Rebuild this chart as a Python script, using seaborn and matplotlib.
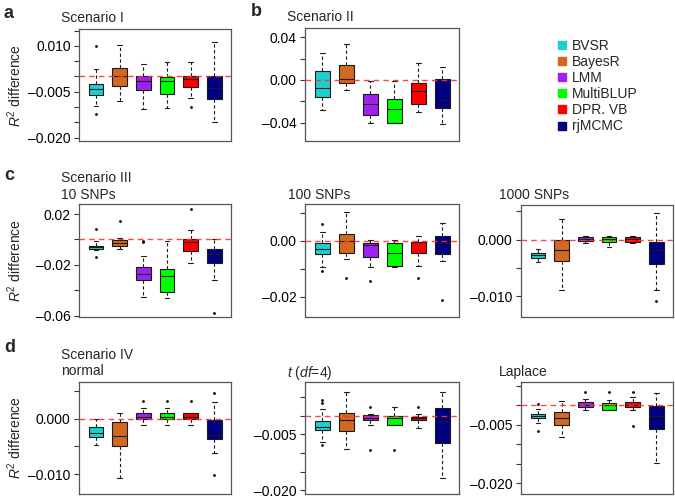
import numpy as np
import pandas as pd
import matplotlib
matplotlib.use("Agg")
import matplotlib.pyplot as plt
import seaborn as sns
from matplotlib.lines import Line2D

# ---------------- data ----------------
methods = ["BVSR", "BayesR", "LMM", "MultiBLUP", "DPR. VB", "rjMCMC"]
colors = ["#1FCFCF", "#D2691E", "#A020F0", "#00FF00", "#FF0000", "#000080"]

# box stats per method: [lower whisker, Q1, median, Q3, upper whisker]
a_stats = [[-0.0095, -0.0062, -0.0040, -0.0025, 0.0023],
           [-0.0080, -0.0032, 0.0001, 0.0028, 0.0104],
           [-0.0108, -0.0043, -0.0016, 0.0000, 0.0041],
           [-0.0104, -0.0057, -0.0015, -0.0003, 0.0047],
           [-0.0070, -0.0035, -0.0010, 0.0001, 0.0047],
           [-0.0150, -0.0073, -0.0038, 0.0001, 0.0112]]
a_out = [[0.0101, -0.0124], [], [], [], [-0.0101], []]

b_stats = [[-0.0279, -0.0163, -0.0078, 0.0082, 0.0257],
           [-0.0094, -0.0025, 0.0013, 0.0138, 0.0336],
           [-0.0408, -0.0333, -0.0229, -0.0135, -0.0006],
           [-0.0405, -0.0405, -0.0276, -0.0176, -0.0006],
           [-0.0301, -0.0223, -0.0107, -0.0028, 0.0160],
           [-0.0411, -0.0267, -0.0185, 0.0013, 0.0125]]
b_out = [[], [], [], [], [], []]

c1_stats = [[-0.0087, -0.0074, -0.0060, -0.0050, -0.0016],
            [-0.0076, -0.0055, -0.0029, -0.0008, 0.0013],
            [-0.0455, -0.0318, -0.0271, -0.0216, -0.0134],
            [-0.0460, -0.0418, -0.0289, -0.0234, -0.0016],
            [-0.0187, -0.0089, -0.0018, 0.0003, 0.0076],
            [-0.0316, -0.0187, -0.0113, -0.0074, 0.0000]]
c1_out = [[0.0084, -0.0139], [0.0147], [-0.0010, -0.0020], [], [0.0239], [-0.0581]]

c2_stats = [[-0.0093, -0.0048, -0.0029, -0.0007, 0.0030],
            [-0.0065, -0.0044, -0.0001, 0.0025, 0.0101],
            [-0.0095, -0.0059, -0.0017, -0.0008, 0.0002],
            [-0.0096, -0.0090, -0.0044, -0.0007, 0.0002],
            [-0.0092, -0.0044, -0.0005, -0.0004, 0.0016],
            [-0.0074, -0.0047, -0.0010, 0.0018, 0.0062]]
c2_out = [[0.0058, -0.0109], [-0.0135], [-0.0145], [], [-0.0135], [-0.0213]]

c3_stats = [[-0.0039, -0.0032, -0.0027, -0.0023, -0.0017],
            [-0.0089, -0.0038, -0.0018, 0.0000, 0.0036],
            [-0.0007, -0.0003, 0.0001, 0.0004, 0.0007],
            [-0.0014, -0.0004, 0.0001, 0.0004, 0.0007],
            [-0.0007, -0.0004, 0.0001, 0.0004, 0.0007],
            [-0.0089, -0.0044, -0.0019, -0.0005, 0.0046]]
c3_out = [[], [], [], [], [], [-0.0108]]

d1_stats = [[-0.0048, -0.0033, -0.0026, -0.0015, 0.0000],
            [-0.0107, -0.0050, -0.0031, -0.0006, 0.0010],
            [-0.0011, 0.0000, 0.0002, 0.0010, 0.0019],
            [-0.0011, 0.0000, 0.0002, 0.0010, 0.0019],
            [-0.0011, 0.0000, 0.0002, 0.0010, 0.0010],
            [-0.0062, -0.0036, -0.0030, -0.0003, 0.0030]]
d1_out = [[], [], [0.0031], [0.0031], [0.0031], [0.0047, -0.0102]]

d2_stats = [[-0.0071, -0.0039, -0.0031, -0.0013, 0.0018],
            [-0.0088, -0.0041, -0.0012, 0.0007, 0.0063],
            [-0.0025, -0.0012, -0.0006, 0.0003, 0.0006],
            [-0.0024, -0.0024, -0.0006, -0.0001, 0.0023],
            [-0.0032, -0.0012, -0.0005, -0.0002, 0.0004],
            [-0.0168, -0.0074, -0.0015, 0.0021, 0.0063]]
d2_out = [[0.0043, 0.0035, -0.0077], [], [0.0024, -0.0092], [-0.0092], [0.0023], []]

d3_stats = [[-0.0046, -0.0033, -0.0027, -0.0021, -0.0010],
            [-0.0081, -0.0050, -0.0033, -0.0016, 0.0012],
            [-0.0012, -0.0004, 0.0002, 0.0008, 0.0016],
            [-0.0012, -0.0011, 0.0000, 0.0005, 0.0014],
            [-0.0012, -0.0004, 0.0002, 0.0008, 0.0022],
            [-0.0147, -0.0062, -0.0028, -0.0002, 0.0032]]
d3_out = [[0.0004, -0.0066], [], [0.0035], [0.0035], [0.0035, -0.0053], []]

# ---------------- style ----------------
W, H = 675, 498
sns.set_theme(style="ticks")
plt.rcParams["font.family"] = ["Liberation Sans", "DejaVu Sans"]
plt.rcParams["mathtext.fontset"] = "custom"
plt.rcParams["mathtext.rm"] = "Liberation Sans"
plt.rcParams["mathtext.it"] = "Liberation Sans:italic"
plt.rcParams["axes.edgecolor"] = "#555555"
plt.rcParams["axes.linewidth"] = 0.9

fig = plt.figure(figsize=(W / 100, H / 100), dpi=100)
fig.patch.set_facecolor("white")


def add_ax(l, t, r, b):
    return fig.add_axes([l / W, 1 - b / H, (r - l) / W, (b - t) / H])


def ftext(x, y, s, **kw):
    fig.text(x / W, 1 - y / H, s, **kw)


def fmt(v, nd):
    s = f"{abs(v):.{nd}f}"
    return ("\u2013" + s) if v < 0 else s


def draw(ax, stats, outs, ylim, ticks, labeled, nd):
    df = pd.DataFrame({"method": np.repeat(methods, 5),
                       "value": np.concatenate(stats)})
    sns.boxplot(data=df, x="method", y="value", hue="method",
                order=methods, hue_order=methods, palette=colors,
                saturation=1, legend=False, whis=(0, 100), width=0.62,
                linecolor="#1a1a1a", linewidth=0.8, showfliers=False,
                whiskerprops=dict(linestyle=(0, (3, 2.2))),
                capwidths=0.2, ax=ax)
    om = [m for m, o in zip(methods, outs) for _ in o]
    ov = [v for o in outs for v in o]
    if ov:
        sns.stripplot(x=om, y=ov, order=methods, jitter=False,
                      color="black", size=2.0, ax=ax, zorder=4)
    ax.axhline(0, color="#FF3030", lw=1.0, ls=(0, (4, 3)), zorder=6, alpha=0.9)
    ax.set_xlim(-0.72, 5.7)
    ax.set_ylim(*ylim)
    ax.set_xticks([])
    ax.set_yticks(ticks)
    ax.set_yticklabels([fmt(t, nd) if t in labeled else "" for t in ticks])
    ax.tick_params(axis="y", length=3.5, width=0.8, pad=2.5,
                   labelsize=10, colors="#333333", labelcolor="black")
    ax.set_xlabel("")
    ax.set_ylabel("")
    for sp in ax.spines.values():
        sp.set_visible(True)
        sp.set_color("#555555")


# panel a
ax = add_ax(79, 29, 231, 141)
draw(ax, a_stats, a_out, (-0.0211, 0.0155),
     [0.015, 0.010, 0.005, 0.0, -0.005, -0.010, -0.015, -0.020],
     [0.010, -0.005, -0.020], 3)
# panel b
ax = add_ax(305, 28, 459, 141)
draw(ax, b_stats, b_out, (-0.0573, 0.0488),
     [0.04, 0.02, 0.0, -0.02, -0.04], [0.04, 0.0, -0.04], 2)
# panel c
ax = add_ax(79, 204, 231, 317)
draw(ax, c1_stats, c1_out, (-0.0611, 0.0279),
     [0.02, 0.0, -0.02, -0.04, -0.06], [0.02, -0.02, -0.06], 2)
ax = add_ax(305, 204, 459, 317)
draw(ax, c2_stats, c2_out, (-0.0273, 0.0131),
     [0.01, 0.0, -0.01, -0.02], [0.0, -0.02], 2)
ax = add_ax(521, 205, 673, 317)
draw(ax, c3_stats, c3_out, (-0.0137, 0.0061),
     [0.005, 0.0, -0.005, -0.010], [0.0, -0.010], 3)
# panel d
ax = add_ax(79, 382, 231, 494)
draw(ax, d1_stats, d1_out, (-0.0136, 0.0066),
     [0.005, 0.0, -0.005, -0.010], [0.0, -0.010], 3)
ax = add_ax(305, 382, 459, 494)
draw(ax, d2_stats, d2_out, (-0.0210, 0.0091),
     [0.005, 0.0, -0.005, -0.010, -0.015, -0.020], [-0.005, -0.020], 3)
ax = add_ax(521, 382, 673, 494)
draw(ax, d3_stats, d3_out, (-0.0228, 0.0060),
     [0.005, 0.0, -0.005, -0.010, -0.015, -0.020], [-0.005, -0.020], 3)

# titles
tkw = dict(ha="left", va="center", fontsize=10)
ftext(61, 18, "Scenario I", **tkw)
ftext(287, 17, "Scenario II", **tkw)
ftext(61, 178, "Scenario III", **tkw)
ftext(61, 195, "10 SNPs", **tkw)
ftext(288, 195, "100 SNPs", **tkw)
ftext(499, 195, "1000 SNPs", **tkw)
ftext(61, 355, "Scenario IV", **tkw)
ftext(61, 371, "normal", **tkw)
ftext(287, 373, r"$t$ ($df$=4)", **tkw)
ftext(499, 372, "Laplace", **tkw)

# panel letters
lkw = dict(ha="left", va="center", fontsize=13, fontweight="bold")
ftext(4, 13, "a", **lkw)
ftext(251, 11, "b", **lkw)
ftext(4, 175, "c", **lkw)
ftext(4, 347, "d", **lkw)

# y labels
ykw = dict(ha="center", va="center", fontsize=10, rotation=90)
ftext(15, 86, r"$R^2$ difference", **ykw)
ftext(15, 261, r"$R^2$ difference", **ykw)
ftext(15, 438, r"$R^2$ difference", **ykw)

# legend
handles = [Line2D([], [], marker="s", linestyle="none", markersize=5.5,
                  markerfacecolor=c, markeredgecolor=c) for c in colors]
fig.legend(handles, methods, loc="upper left",
           bbox_to_anchor=(557.0 / W, 1 - 39 / H), frameon=False,
           fontsize=10, handlelength=0.7, handletextpad=0.35,
           labelspacing=0.15, borderpad=0, borderaxespad=0)

fig.savefig("out.png", dpi=100)
